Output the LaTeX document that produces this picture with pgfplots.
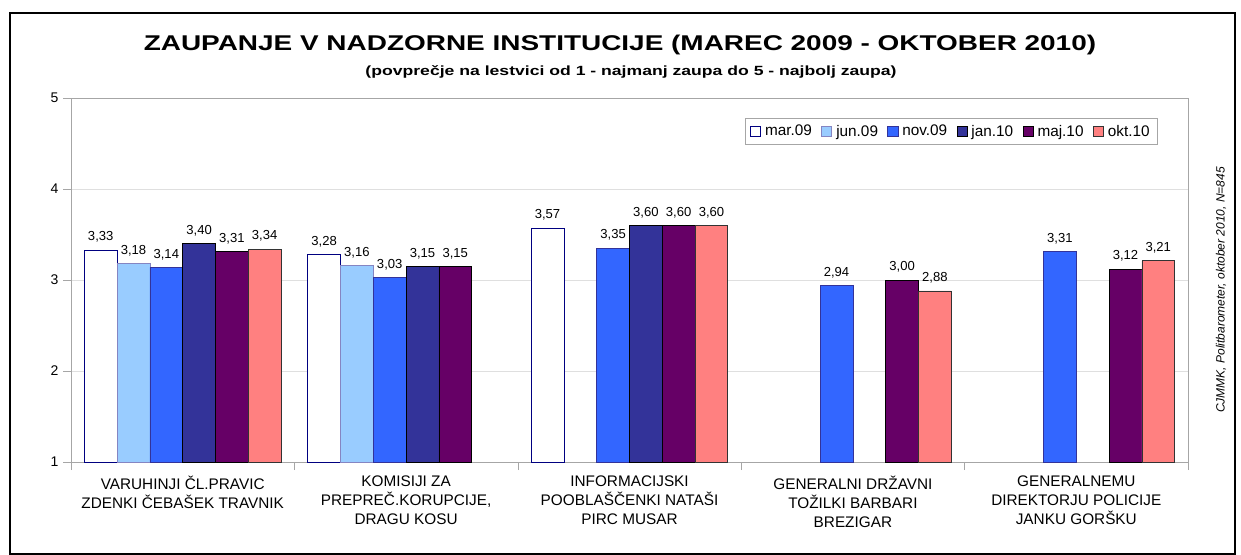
\documentclass[border=0pt]{standalone}
\usepackage{pgfplots}
\pgfplotsset{compat=1.18}
\usepackage{fontspec}
\setmainfont{Liberation Sans}

\definecolor{cnavy}{HTML}{000080}
\definecolor{cjun}{HTML}{99CCFF}
\definecolor{cnov}{HTML}{3366FF}
\definecolor{cjan}{HTML}{333399}
\definecolor{cmaj}{HTML}{660066}
\definecolor{cokt}{HTML}{FF8080}

\begin{document}
\begin{tikzpicture}[x=0.75pt,y=0.75pt]
\path[use as bounding box] (0,0) rectangle (1241,554);
\draw[line width=1.2pt] (10,0) rectangle (1235,541);
\node[font=\bfseries\fontsize{16}{18}\selectfont, xscale=1.31] at (620,509)
  {ZAUPANJE V NADZORNE INSTITUCIJE (MAREC 2009 - OKTOBER 2010)};
\node[font=\bfseries\fontsize{10}{12}\selectfont, xscale=1.32] at (631,482)
  {(povprečje na lestvici od 1 - najmanj zaupa do 5 - najbolj zaupa)};
\node[rotate=90,font=\itshape\fontsize{9}{10}\selectfont] at (1221,264)
  {CJMMK, Politbarometer, oktober 2010, N=845};

\begin{axis}[
    at={(53.25pt,69pt)}, anchor=south west,
    width=837.75pt, height=273pt, scale only axis,
    ybar=0pt, bar width=0.1468,
    xmin=0.5, xmax=5.5, ymin=1, ymax=5,
    xtick={0.5,1.5,2.5,3.5,4.5,5.5},
    x tick label as interval,
    xticklabels={{VARUHINJI ČL.PRAVIC\\ZDENKI ČEBAŠEK TRAVNIK},
                 {KOMISIJI ZA\\PREPREČ.KORUPCIJE,\\DRAGU KOSU},
                 {INFORMACIJSKI\\POOBLAŠČENKI NATAŠI\\PIRC MUSAR},
                 {GENERALNI DRŽAVNI\\TOŽILKI BARBARI\\BREZIGAR},
                 {GENERALNEMU\\DIREKTORJU POLICIJE\\JANKU GORŠKU}},
    xticklabel style={align=center, font=\fontsize{11.5}{14.2}\selectfont, yshift=-1pt},
    ytick={1,2,3,4,5},
    yticklabel style={font=\fontsize{10.5}{12}\selectfont},
    /pgf/number format/assume math mode=true,
    tick align=outside, xtick pos=left, ytick pos=left,
    major tick length=6pt,
    tick style={gray!70},
    axis line style={gray!70},
    ymajorgrids, major grid style={gray!25},
    nodes near coords={\pgfmathprintnumber[assume math mode=true,use comma,fixed,fixed zerofill,precision=2]{\pgfplotspointmeta}},
    nodes near coords style={font=\fontsize{9.8}{11}\selectfont, black, yshift=2pt},
    legend columns=6,
    legend style={at={(0.973,0.945)}, anchor=north east, draw=gray!70,
        font=\fontsize{11.5}{13}\selectfont, inner xsep=4pt, inner ysep=3pt,
        /tikz/every odd column/.append style={column sep=1pt},
        /tikz/every even column/.append style={column sep=5pt}},
    legend image code/.code={\draw[#1] (0pt,-3.8pt) rectangle (7.6pt,3.8pt);},
]
\addplot[fill=white, draw=cnavy, line width=0.6pt] coordinates {(1,3.33) (2,3.28) (3,3.57)};
\addlegendentry{mar.09}
\addplot[fill=cjun, draw=cjan!60, line width=0.6pt] coordinates {(1,3.18) (2,3.16)};
\addlegendentry{jun.09}
\addplot[fill=cnov, draw=cnavy!80, line width=0.6pt] coordinates {(1,3.14) (2,3.03) (3,3.35) (4,2.94) (5,3.31)};
\addlegendentry{nov.09}
\addplot[fill=cjan, draw=black, line width=0.6pt] coordinates {(1,3.40) (2,3.15) (3,3.60)};
\addlegendentry{jan.10}
\addplot[fill=cmaj, draw=black, line width=0.6pt] coordinates {(1,3.31) (2,3.15) (3,3.60) (4,3.00) (5,3.12)};
\addlegendentry{maj.10}
\addplot[fill=cokt, draw=black!80, line width=0.6pt] coordinates {(1,3.34) (3,3.60) (4,2.88) (5,3.21)};
\addlegendentry{okt.10}
\end{axis}
\end{tikzpicture}
\end{document}
